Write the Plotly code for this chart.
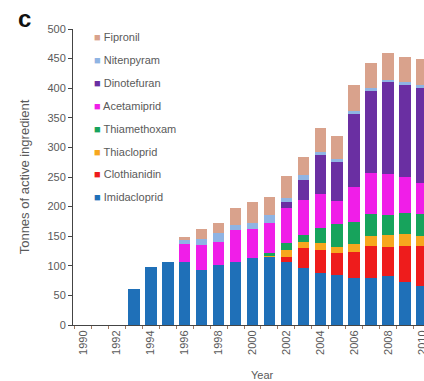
import plotly.graph_objects as go

years = list(range(1990, 2011))

imidacloprid = [0, 0, 0, 60, 98, 107, 106, 93, 101, 106, 114, 116, 106, 96, 88, 84, 80, 80, 82, 72, 66]
clothianidin = [0, 0, 0, 0, 0, 0, 0, 0, 0, 0, 0, 0, 9, 34, 38, 37, 44, 54, 50, 62, 68]
thiacloprid  = [0, 0, 0, 0, 0, 0, 0, 0, 0, 0, 0, 2, 11, 10, 12, 11, 12, 17, 20, 20, 16]
thiamethoxam = [0, 0, 0, 0, 0, 0, 0, 0, 0, 0, 0, 3, 12, 12, 26, 38, 38, 37, 33, 35, 38]
acetamiprid  = [0, 0, 0, 0, 0, 0, 30, 42, 39, 54, 49, 51, 59, 59, 58, 40, 59, 68, 70, 61, 52]
dinotefuran  = [0, 0, 0, 0, 0, 0, 0, 0, 0, 0, 0, 0, 10, 34, 65, 65, 124, 140, 155, 155, 160]
nitenpyram   = [0, 0, 0, 0, 0, 0, 9, 11, 15, 9, 9, 13, 7, 8, 5, 5, 5, 5, 4, 5, 5]
fipronil     = [0, 0, 0, 0, 0, 0, 3, 16, 17, 29, 35, 31, 38, 30, 40, 40, 43, 42, 45, 42, 45]

series_names = ["Imidacloprid", "Clothianidin", "Thiacloprid", "Thiamethoxam",
                "Acetamiprid", "Dinotefuran", "Nitenpyram", "Fipronil"]
series_values = [imidacloprid, clothianidin, thiacloprid, thiamethoxam,
                 acetamiprid, dinotefuran, nitenpyram, fipronil]
series_colors = ["#1f70b8", "#ee1c1c", "#f7a71e", "#17a35c",
                 "#f01ee8", "#6a2fa2", "#8fb4e3", "#d9a28c"]

tick_years = list(range(1990, 2011, 2))
y_ticks = list(range(0, 501, 50))

FONT = "Liberation Sans, Arial, sans-serif"
TXT = "#5a5a5a"

W, H = 424, 381
ML, MR, MT, MB = 73, 0, 29, 56
PW, PH = W - ML - MR, H - MT - MB

fig = go.Figure()
for name, vals, col in zip(series_names, series_values, series_colors):
    fig.add_trace(go.Bar(x=years, y=vals, name=name, marker_color=col,
                         marker_line_width=0, width=0.68, showlegend=False))

fig.update_layout(
    barmode="stack",
    width=W, height=H,
    margin=dict(l=ML, r=MR, t=MT, b=MB),
    paper_bgcolor="white", plot_bgcolor="white",
    font=dict(family=FONT, size=11, color=TXT),
    showlegend=False,
)

fig.update_xaxes(
    range=[1989.41, 2010.12], automargin=False,
    tickmode="array", tickvals=tick_years, ticktext=[str(y) for y in tick_years],
    tickangle=-90, ticks="", showgrid=False, zeroline=False,
    ticklabeloverflow="allow",
    showline=True, linecolor="#444", linewidth=1,
    tickfont=dict(size=11, color=TXT),
    minor=dict(tickmode="linear", tick0=1989.5, dtick=1, ticks="outside",
               ticklen=3, tickcolor="#a07a62", showgrid=False),
)
fig.update_yaxes(
    range=[0, 500], tickmode="array", tickvals=y_ticks, automargin=False,
    ticks="outside", ticklen=4, tickcolor="#444",
    showgrid=False, zeroline=False,
    showline=True, linecolor="#444", linewidth=1,
    tickfont=dict(size=11, color=TXT),
    title=dict(text="Tonnes of active ingredient", font=dict(size=13, color=TXT), standoff=14),
)

# legend drawn as text entries (top: Fipronil ... bottom: Imidacloprid)
leg_x_px, leg_y0_px, leg_step_px = 92, 37, 22.9
for i, (name, col) in enumerate(zip(reversed(series_names), reversed(series_colors))):
    ypx = leg_y0_px + i * leg_step_px
    fig.add_annotation(
        text=f'<span style="color:{col}">■</span> {name}',
        xref="paper", yref="paper",
        x=(leg_x_px - ML) / PW, y=(H - MB - ypx) / PH,
        xanchor="left", yanchor="middle", showarrow=False,
        font=dict(size=11, color=TXT))

fig.add_annotation(text="Year", xref="paper", yref="paper",
                   x=(262 - ML) / PW, y=(H - MB - 375) / PH,
                   xanchor="center", yanchor="middle",
                   showarrow=False, font=dict(size=11, color=TXT))
fig.add_annotation(text="<b>c</b>", xref="paper", yref="paper",
                   x=(25 - ML) / PW, y=(H - MB - 18) / PH,
                   xanchor="center", yanchor="middle", showarrow=False,
                   font=dict(size=24, color="#111", family=FONT))

fig.write_html("out.html", config={"displayModeBar": False},
               post_script="document.body.style.margin='0';")
